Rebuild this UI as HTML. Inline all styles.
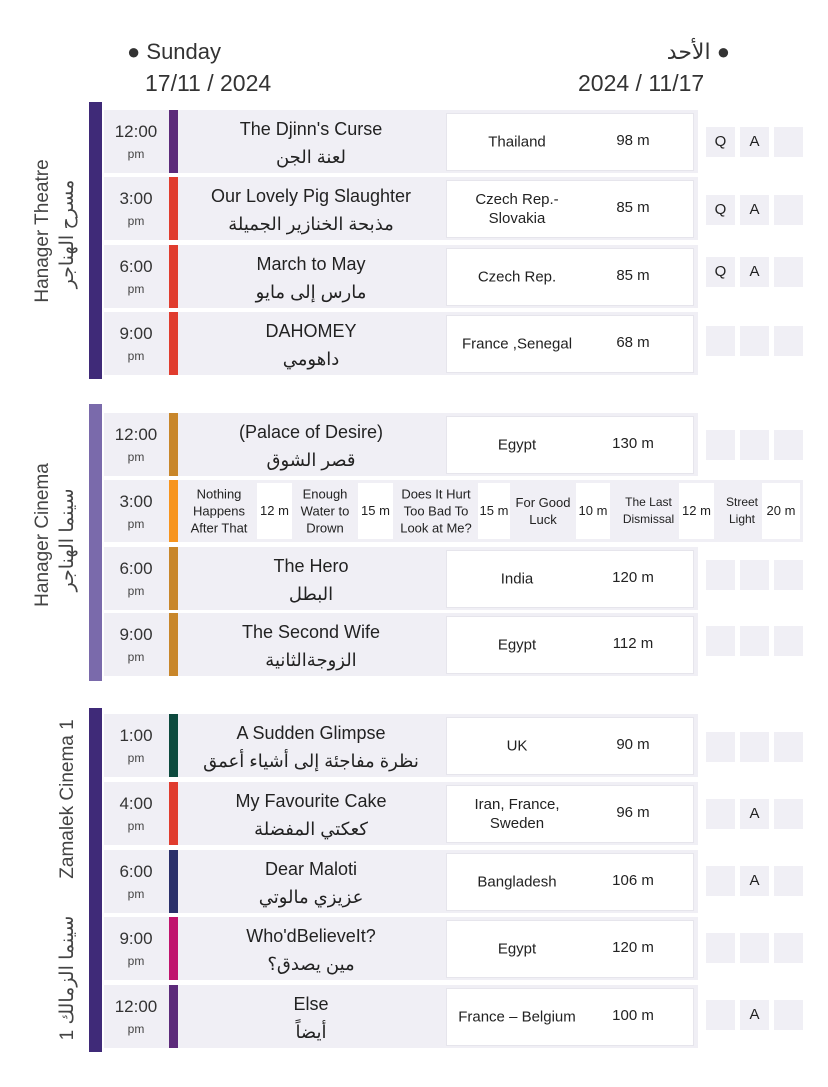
<!DOCTYPE html>
<html><head><meta charset="utf-8"><style>
body{margin:0;width:828px;height:1087px;background:#fff;position:relative;overflow:hidden;font-family:"Liberation Sans","DejaVu Sans",sans-serif;color:#222}
.a{position:absolute}
.bar{position:absolute;left:89px;width:13px}
.row{position:absolute;left:104px;width:594px;height:63px;background:#f0eff5}
.t{position:absolute;left:0;width:64px;top:13px;text-align:center;font-size:17px;color:#333;line-height:18px}
.t small{display:block;font-size:12px;color:#444;margin-top:4px}
.s{position:absolute;left:65px;width:9px;top:0;height:63px}
.ti{position:absolute;left:76px;width:262px;top:5px;text-align:center;font-size:18px;line-height:28px;color:#222}
.ar{direction:rtl;font-size:18px}
.w{position:absolute;left:342px;width:246px;top:3px;height:56px;background:#fff;border:1px solid #e6e5ec}
.c{position:absolute;left:10px;width:120px;text-align:center;font-size:15px;line-height:19px;top:50%;transform:translateY(-50%)}
.d{position:absolute;left:150px;width:72px;text-align:center;font-size:15px;top:50%;transform:translateY(-60%)}
.q{position:absolute;width:29px;height:30px;background:#f0eff5;text-align:center;line-height:30px;font-size:15px}
.lab{position:absolute;transform:rotate(-90deg);text-align:center;white-space:nowrap;font-size:19px;color:#444;height:24px;line-height:24px}
.sf{position:absolute;text-align:center;font-size:13px;line-height:17px;transform:translateY(-50%);top:50%}
.sb{position:absolute;top:3px;height:56px;background:#fff;text-align:center;line-height:56px;font-size:13px}
</style></head><body>
<div class="a" style="left:127px;top:39px;font-size:22px;color:#333">● Sunday</div>
<div class="a" style="left:145px;top:70px;font-size:23px;color:#333">17/11 / 2024</div>
<div class="a" style="left:600px;top:39px;font-size:22px;color:#333;width:130px;text-align:right;direction:rtl">● الأحد</div>
<div class="a" style="left:578px;top:70px;font-size:23px;color:#333">2024 / 11/17</div>

<div class="bar" style="top:102px;height:277px;background:#3f2a78"></div>
<div class="bar" style="top:404px;height:277px;background:#7a6aab"></div>
<div class="bar" style="top:708px;height:344px;background:#3f2a78"></div>

<div class="lab" style="left:-57px;top:219px;width:200px">Hanager Theatre</div>
<div class="lab" style="left:-32px;top:222px;width:200px;direction:rtl">مسرح الهناجر</div>
<div class="lab" style="left:-57px;top:523px;width:200px">Hanager Cinema</div>
<div class="lab" style="left:-32px;top:528px;width:200px;direction:rtl">سينما الهناجر</div>
<div class="lab" style="left:-32px;top:787px;width:200px">Zamalek Cinema 1</div>
<div class="lab" style="left:-7px;top:966px;width:150px;direction:rtl">سينما الزمالك 1</div>

<!-- Block 1 -->
<div class="row" style="top:110px"><div class="t">12:00<small>pm</small></div><div class="s" style="background:#5c2a7a"></div><div class="ti">The Djinn's Curse<div class="ar">لعنة الجن</div></div><div class="w"><div class="c">Thailand</div><div class="d">98 m</div></div></div>
<div class="q" style="left:706px;top:127px">Q</div><div class="q" style="left:740px;top:127px">A</div><div class="q" style="left:774px;top:127px"></div>

<div class="row" style="top:177px"><div class="t">3:00<small>pm</small></div><div class="s" style="background:#e03c2e"></div><div class="ti">Our Lovely Pig Slaughter<div class="ar">مذبحة الخنازير الجميلة</div></div><div class="w"><div class="c">Czech Rep.-<br>Slovakia</div><div class="d">85 m</div></div></div>
<div class="q" style="left:706px;top:195px">Q</div><div class="q" style="left:740px;top:195px">A</div><div class="q" style="left:774px;top:195px"></div>

<div class="row" style="top:245px"><div class="t">6:00<small>pm</small></div><div class="s" style="background:#e03c2e"></div><div class="ti">March to May<div class="ar">مارس إلى مايو</div></div><div class="w"><div class="c">Czech Rep.</div><div class="d">85 m</div></div></div>
<div class="q" style="left:706px;top:257px">Q</div><div class="q" style="left:740px;top:257px">A</div><div class="q" style="left:774px;top:257px"></div>

<div class="row" style="top:312px"><div class="t">9:00<small>pm</small></div><div class="s" style="background:#e03c2e"></div><div class="ti">DAHOMEY<div class="ar">داهومي</div></div><div class="w"><div class="c">France ,Senegal</div><div class="d">68 m</div></div></div>
<div class="q" style="left:706px;top:326px"></div><div class="q" style="left:740px;top:326px"></div><div class="q" style="left:774px;top:326px"></div>

<!-- Block 2 -->
<div class="row" style="top:413px"><div class="t">12:00<small>pm</small></div><div class="s" style="background:#c8862a"></div><div class="ti">(Palace of Desire)<div class="ar">قصر الشوق</div></div><div class="w"><div class="c">Egypt</div><div class="d">130 m</div></div></div>
<div class="q" style="left:706px;top:430px"></div><div class="q" style="left:740px;top:430px"></div><div class="q" style="left:774px;top:430px"></div>

<div class="row" style="top:480px;width:699px;height:62px"><div class="t">3:00<small>pm</small></div><div class="s" style="background:#f7941d;height:62px"></div>
<div class="sf" style="left:80px;width:70px">Nothing Happens After That</div><div class="sb" style="left:153px;width:35px">12 m</div>
<div class="sf" style="left:190px;width:62px">Enough Water to Drown</div><div class="sb" style="left:254px;width:35px">15 m</div>
<div class="sf" style="left:292px;width:80px">Does It Hurt Too Bad To Look at Me?</div><div class="sb" style="left:374px;width:32px">15 m</div>
<div class="sf" style="left:408px;width:62px">For Good Luck</div><div class="sb" style="left:472px;width:34px">10 m</div>
<div class="sf" style="left:508px;width:73px;font-size:12px">The Last Dismissal</div><div class="sb" style="left:575px;width:35px">12 m</div>
<div class="sf" style="left:612px;width:52px;font-size:12px">Street Light</div><div class="sb" style="left:658px;width:38px">20 m</div>
</div>

<div class="row" style="top:547px"><div class="t">6:00<small>pm</small></div><div class="s" style="background:#c8862a"></div><div class="ti">The Hero<div class="ar">البطل</div></div><div class="w"><div class="c">India</div><div class="d">120 m</div></div></div>
<div class="q" style="left:706px;top:560px"></div><div class="q" style="left:740px;top:560px"></div><div class="q" style="left:774px;top:560px"></div>

<div class="row" style="top:613px"><div class="t">9:00<small>pm</small></div><div class="s" style="background:#c8862a"></div><div class="ti">The Second Wife<div class="ar">الزوجةالثانية</div></div><div class="w"><div class="c">Egypt</div><div class="d">112 m</div></div></div>
<div class="q" style="left:706px;top:626px"></div><div class="q" style="left:740px;top:626px"></div><div class="q" style="left:774px;top:626px"></div>

<!-- Block 3 -->
<div class="row" style="top:714px"><div class="t">1:00<small>pm</small></div><div class="s" style="background:#0d4a3e"></div><div class="ti">A Sudden Glimpse<div class="ar">نظرة مفاجئة إلى أشياء أعمق</div></div><div class="w"><div class="c">UK</div><div class="d">90 m</div></div></div>
<div class="q" style="left:706px;top:732px"></div><div class="q" style="left:740px;top:732px"></div><div class="q" style="left:774px;top:732px"></div>

<div class="row" style="top:782px"><div class="t">4:00<small>pm</small></div><div class="s" style="background:#e03c2e"></div><div class="ti">My Favourite Cake<div class="ar">كعكتي المفضلة</div></div><div class="w"><div class="c">Iran, France,<br>Sweden</div><div class="d">96 m</div></div></div>
<div class="q" style="left:706px;top:799px"></div><div class="q" style="left:740px;top:799px">A</div><div class="q" style="left:774px;top:799px"></div>

<div class="row" style="top:850px"><div class="t">6:00<small>pm</small></div><div class="s" style="background:#2a2f6a"></div><div class="ti">Dear Maloti<div class="ar">عزيزي مالوتي</div></div><div class="w"><div class="c">Bangladesh</div><div class="d">106 m</div></div></div>
<div class="q" style="left:706px;top:866px"></div><div class="q" style="left:740px;top:866px">A</div><div class="q" style="left:774px;top:866px"></div>

<div class="row" style="top:917px"><div class="t">9:00<small>pm</small></div><div class="s" style="background:#c0136d"></div><div class="ti">Who'dBelieveIt?<div class="ar">مين يصدق؟</div></div><div class="w"><div class="c">Egypt</div><div class="d">120 m</div></div></div>
<div class="q" style="left:706px;top:933px"></div><div class="q" style="left:740px;top:933px"></div><div class="q" style="left:774px;top:933px"></div>

<div class="row" style="top:985px"><div class="t">12:00<small>pm</small></div><div class="s" style="background:#5c2a7a"></div><div class="ti">Else<div class="ar">أيضاً</div></div><div class="w"><div class="c">France – Belgium</div><div class="d">100 m</div></div></div>
<div class="q" style="left:706px;top:1000px"></div><div class="q" style="left:740px;top:1000px">A</div><div class="q" style="left:774px;top:1000px"></div>
</body></html>
